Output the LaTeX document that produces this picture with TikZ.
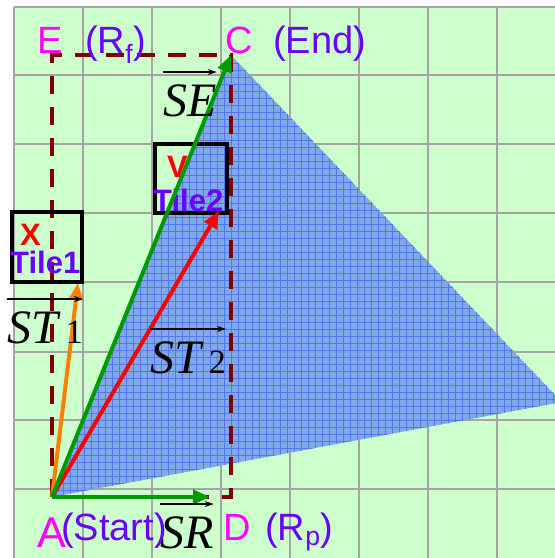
\documentclass[tikz,border=0pt]{standalone}
\usepackage{fontspec}
\setsansfont{Liberation Sans}
\newfontfamily\vecfont{Liberation Serif}
\usetikzlibrary{arrows.meta}
\definecolor{Paper}{HTML}{CCFFCC}
\definecolor{GridGray}{HTML}{A4A4A4}
\definecolor{Region}{HTML}{7BA2EA}
\definecolor{RegionLine}{HTML}{5078F2}
\definecolor{Bound}{HTML}{7F0000}
\definecolor{Corner}{HTML}{FF00FF}
\definecolor{Note}{HTML}{6A00FF}
\definecolor{VecGreen}{HTML}{009A00}
\definecolor{VecOrange}{HTML}{FF7F00}

\tikzset{
  ptname/.style={font=\fontsize{38}{40}\selectfont\sffamily,text=Corner,inner sep=0pt,anchor=base west},
  ptnote/.style={font=\fontsize{38}{40}\selectfont\sffamily,text=Note,inner sep=0pt,anchor=base west},
  vecname/.style={font=\fontsize{48}{50}\selectfont\vecfont\itshape,inner sep=0pt,anchor=base west},
  overarr/.style={-{Stealth[length=9pt,width=6pt]},line width=1.5pt,black},
  vecline/.style={line width=4pt,-{Triangle[length=17pt,width=14pt]}},
  tilebox/.style={draw=black,line width=4pt,inner sep=0pt},
  tilename/.style={font=\fontsize{31}{32}\selectfont\sffamily\bfseries,text=Note,inner sep=0pt,anchor=base west},
  tilemark/.style={font=\fontsize{31}{32}\selectfont\sffamily\bfseries,text=red,inner sep=0pt,anchor=base west},
}

\begin{document}
\begin{tikzpicture}[x=1pt,y=-1pt]
  \useasboundingbox (0,0) rectangle (555,558);
  % paper and grid
  \fill[Paper] (14,7) rectangle (555,558);
  \foreach \x in {14,83,152,221,290,359,428,497}
    \draw[GridGray,line width=1.3pt] (\x,7) -- (\x,558);
  \foreach \y in {7,75,144,213,282,352,420,489}
    \draw[GridGray,line width=1.3pt] (14,\y) -- (555,\y);

  \coordinate (A) at (52,497);
  \coordinate (C) at (231,55);
  \coordinate (E) at (52,55);
  \coordinate (D) at (231,497);
  \coordinate (F) at (562,402);

  % reachable region
  \begin{scope}
    \clip (A) -- (C) -- (F) -- cycle;
    \fill[Region,fill opacity=0.92] (A) -- (C) -- (F) -- cycle;
    \draw[RegionLine,line width=0.9pt,step=7pt] (40,50) grid (570,500);
  \end{scope}

  % bounding rectangle
  \draw[Bound,line width=4pt,dash pattern=on 18pt off 13pt] (A) -- (E) -- (C) -- (D) -- (A);

  % tiles
  \node[tilebox,minimum width=70pt,minimum height=70pt] (tile1) at (47,247) {};
  \node[tilebox,minimum width=72pt,minimum height=69pt] (tile2) at (191,178.5) {};
  \node[tilemark] (x1) at (20,245) {X};
  \node[tilename] (t1) at (10,273) {Tile1};
  \node[tilemark] (v2) at (167,177) {V};
  \node[tilename] (t2) at (153,211) {Tile2};

  % vectors
  \coordinate (SRend) at (210,497);
  \coordinate (T1end) at (78,283);
  \coordinate (T2end) at (219,211);
  \draw[vecline,VecOrange] (A) -- (T1end);
  \draw[vecline,red] (A) -- (T2end);
  \draw[vecline,VecGreen] (A) -- (C);
  \draw[vecline,VecGreen] (A) -- (SRend);

  % corner labels
  \node[ptname] (e) at (37,53) {E};
  \node[ptnote] (rf) at (85,53) {(R\textsubscript{f})};
  \node[ptname] (c) at (225,53) {C};
  \node[ptnote] (end) at (273,53) {(End)};
  \node[ptname,font=\fontsize{43}{44}\selectfont\sffamily] (a) at (37,547) {A};
  \node[ptnote] (start) at (61,540) {(Start)};
  \node[ptname] (d) at (223,540) {D};
  \node[ptnote] (rp) at (265,540) {(R\textsubscript{p})};

  % vector names
  \node[vecname] (se) at (163,116) {SE};
  \node[vecname] (st1) at (7,343) {ST\,{\upshape\fontsize{34}{34}\selectfont 1}};
  \node[vecname] (st2) at (150,373) {ST\,{\upshape\fontsize{34}{34}\selectfont 2}};
  \node[vecname] (sr) at (160,548) {SR};
  \foreach \n in {se,st1,st2,sr}
    \draw[overarr] ([yshift=12pt]\n.north west) -- ([yshift=12pt]\n.north east);
\end{tikzpicture}
\end{document}
